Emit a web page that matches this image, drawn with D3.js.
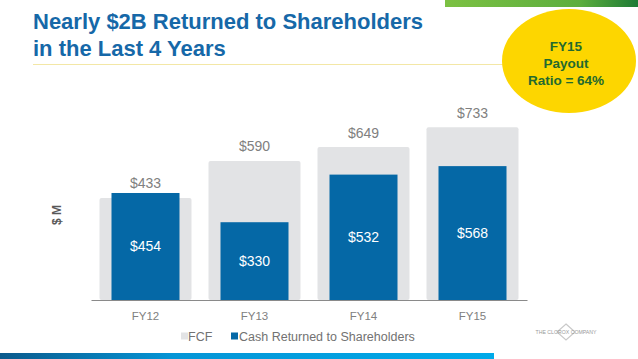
<!DOCTYPE html>
<html>
<head>
<meta charset="utf-8">
<script src="https://cdn.jsdelivr.net/npm/d3@7"></script>
<style>
  html, body { margin: 0; padding: 0; background: #fff; }
  svg { display: block; font-family: "Liberation Sans", Arial, Helvetica, sans-serif; }
</style>
</head>
<body>
<svg id="chart" width="638" height="359"></svg>
<script>
// Chart data ($ millions)
const years = ['FY12', 'FY13', 'FY14', 'FY15'];
const fcf = [433, 590, 649, 733];
const cashReturned = [454, 330, 532, 568];
const legendItems = ['FCF', 'Cash Returned to Shareholders'];
const titleLines = ['Nearly $2B Returned to Shareholders', 'in the Last 4 Years'];
const calloutLines = ['FY15', 'Payout', 'Ratio = 64%'];

const FCF_COLOR = '#e2e3e5';
const CASH_COLOR = '#0568a6';
const LABEL_GRAY = '#808080';

const svg = d3.select('#chart');
const defs = svg.append('defs');

// top-right green strip
const gGreen = defs.append('linearGradient').attr('id', 'greenGrad');
gGreen.append('stop').attr('offset', '0%').attr('stop-color', '#7cc143');
gGreen.append('stop').attr('offset', '70%').attr('stop-color', '#5cae3e');
gGreen.append('stop').attr('offset', '100%').attr('stop-color', '#1d7a35');
svg.append('rect').attr('x', 445).attr('y', 0).attr('width', 193).attr('height', 7)
  .attr('fill', 'url(#greenGrad)');

// bottom blue strip
const gBlue = defs.append('linearGradient').attr('id', 'blueGrad');
gBlue.append('stop').attr('offset', '0%').attr('stop-color', '#0b5a8c');
gBlue.append('stop').attr('offset', '35%').attr('stop-color', '#0595d6');
gBlue.append('stop').attr('offset', '100%').attr('stop-color', '#00aae9');
svg.append('rect').attr('x', 0).attr('y', 353).attr('width', 494).attr('height', 6)
  .attr('fill', 'url(#blueGrad)');

// title
svg.append('line').attr('x1', 33).attr('x2', 505).attr('y1', 64.5).attr('y2', 64.5)
  .attr('stroke', '#f3e7a6').attr('stroke-width', 1);
svg.selectAll('text.title').data(titleLines).join('text')
  .attr('class', 'title')
  .attr('x', 33)
  .attr('y', (d, i) => 29 + i * 27)
  .attr('font-size', 22)
  .attr('font-weight', 'bold')
  .attr('fill', '#1668a8')
  .text(d => d);

// payout callout
svg.append('ellipse').attr('cx', 569).attr('cy', 61).attr('rx', 67).attr('ry', 52)
  .attr('fill', '#fdd600');
svg.selectAll('text.callout').data(calloutLines).join('text')
  .attr('class', 'callout')
  .attr('x', 566)
  .attr('y', (d, i) => 51 + i * 17)
  .attr('text-anchor', 'middle')
  .attr('font-size', 13.5)
  .attr('font-weight', 'bold')
  .attr('fill', '#23692f')
  .text(d => d);

// scales
const x = d3.scaleBand().domain(years).range([91, 527]).paddingInner(0.156).paddingOuter(0.078);
const y = d3.scaleLinear().domain([0, 800]).range([300, 300 - 800 * 0.2357]);
const cashW = 68;

// FCF bars (background)
svg.append('g').selectAll('rect').data(years).join('rect')
  .attr('x', d => x(d))
  .attr('y', (d, i) => y(fcf[i]))
  .attr('width', x.bandwidth())
  .attr('height', (d, i) => y(0) - y(fcf[i]))
  .attr('rx', 2)
  .attr('fill', FCF_COLOR);

// cash returned bars
svg.append('g').selectAll('rect').data(years).join('rect')
  .attr('x', d => x(d) + x.bandwidth() / 2 - cashW / 2)
  .attr('y', (d, i) => y(cashReturned[i]))
  .attr('width', cashW)
  .attr('height', (d, i) => y(0) - y(cashReturned[i]))
  .attr('fill', CASH_COLOR);

// FCF labels
svg.append('g').selectAll('text').data(years).join('text')
  .attr('x', d => x(d) + x.bandwidth() / 2)
  .attr('y', (d, i) => y(fcf[i]) - 9.5)
  .attr('text-anchor', 'middle')
  .attr('font-size', 14)
  .attr('fill', LABEL_GRAY)
  .text((d, i) => '$' + fcf[i]);

// cash labels, centred in bar
svg.append('g').selectAll('text').data(years).join('text')
  .attr('x', d => x(d) + x.bandwidth() / 2)
  .attr('y', (d, i) => (y(cashReturned[i]) + y(0)) / 2 + 5)
  .attr('text-anchor', 'middle')
  .attr('font-size', 14)
  .attr('fill', '#fff')
  .text((d, i) => '$' + cashReturned[i]);

// x axis
const xAxis = svg.append('g').attr('transform', `translate(0,${y(0)})`)
  .call(d3.axisBottom(x).tickSize(0).tickPadding(12));
xAxis.select('.domain').attr('stroke', '#8a8a8a').attr('stroke-width', 1.2);
xAxis.selectAll('text')
  .attr('font-family', '"Liberation Sans", Arial, sans-serif')
  .attr('font-size', 11.5)
  .attr('fill', LABEL_GRAY);

// y axis title
svg.append('text')
  .attr('transform', 'translate(61,215) rotate(-90)')
  .attr('text-anchor', 'middle')
  .attr('font-size', 12)
  .attr('font-weight', 'bold')
  .attr('fill', '#595959')
  .text('$ M');

// legend
const legendX = [181, 231];
const legendColors = [FCF_COLOR, CASH_COLOR];
const legend = svg.append('g').selectAll('g').data(legendItems).join('g')
  .attr('transform', (d, i) => `translate(${legendX[i]},336)`);
legend.append('rect').attr('x', 0).attr('y', -3.5).attr('width', 7).attr('height', 7)
  .attr('fill', (d, i) => legendColors[i]);
legend.append('text').attr('x', (d, i) => i === 0 ? 7 : 8).attr('y', 4.5)
  .attr('font-size', 12.5)
  .attr('fill', '#727272')
  .text(d => d);

// company logo
const logo = svg.append('g').attr('transform', 'translate(566,332)');
logo.append('path').attr('d', 'M0,-8 L9,0 L0,8 L-9,0 Z')
  .attr('fill', 'none').attr('stroke', '#c9c9c9').attr('stroke-width', 1.2);
logo.append('text').attr('x', 0).attr('y', 2).attr('text-anchor', 'middle')
  .attr('font-size', 5.2).attr('fill', '#9a9a9a')
  .text('THE CLOROX COMPANY');
</script>
</body>
</html>
